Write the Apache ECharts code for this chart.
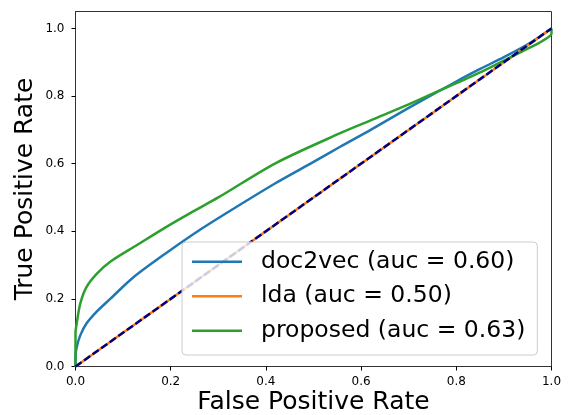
<!DOCTYPE html>
<html>
<head>
<meta charset="utf-8">
<title>ROC</title>
<script src="https://cdn.jsdelivr.net/npm/echarts@6.0.0/dist/echarts.min.js"></script>
<style>
    html, body { margin: 0; padding: 0; background: #fff; }
    #roc { width: 570px; height: 415px; }
</style>
</head>
<body>
<div id="roc"></div>
<script>
var seriesNames = ['doc2vec (auc = 0.60)', 'lda (auc = 0.50)', 'proposed (auc = 0.63)'];
var tickValues = [0, 0.2, 0.4, 0.6, 0.8, 1.0];

// doc2vec 曲线
var doc2vecFpr = [0, 0, 0.0025, 0.01, 0.023, 0.045, 0.073, 0.12, 0.19, 0.26, 0.33, 0.42, 0.5, 0.556, 0.62, 0.7, 0.76, 0.8, 0.85, 0.9, 0.95, 1.0];
var doc2vecTpr = [0, 0.03, 0.057, 0.092, 0.127, 0.163, 0.2, 0.262, 0.335, 0.403, 0.465, 0.542, 0.605, 0.65, 0.70, 0.765, 0.812, 0.843, 0.88, 0.915, 0.953, 1.0];

// lda 曲线
var ldaFpr = [0, 1];
var ldaTpr = [0, 1];

// proposed 曲线
var proposedFpr = [0, 0, 0.0025, 0.01, 0.023, 0.045, 0.073, 0.13, 0.185, 0.24, 0.3, 0.42, 0.556, 0.62, 0.7, 0.76, 0.8, 0.85, 0.9, 0.95, 0.98, 1.0, 1.0];
var proposedTpr = [0, 0.1, 0.127, 0.186, 0.235, 0.275, 0.31, 0.36, 0.408, 0.453, 0.5, 0.601, 0.69, 0.728, 0.775, 0.813, 0.838, 0.87, 0.905, 0.94, 0.962, 0.985, 1.0];

// 对角参考线
var chanceFpr = [0, 1];
var chanceTpr = [0, 1];

function pairs(xs, ys) {
    var out = [];
    for (var i = 0; i < xs.length; i++) {
        out.push([xs[i], ys[i]]);
    }
    return out;
}

var font = 'DejaVu Sans';
var rocChart = echarts.init(document.getElementById('roc'));

var option = {
    animation: false,
    textStyle: { fontFamily: font },
    grid: {
        left: 75.5,
        right: 18.5,
        top: 11.5,
        bottom: 48.5,
        outerBoundsMode: 'none',
        containLabel: false,
        show: true,
        borderColor: '#333',
        borderWidth: 1
    },
    legend: {
        data: seriesNames,
        orient: 'vertical',
        left: 182,
        top: 242,
        z: 10,
        icon: 'rect',
        itemWidth: 50,
        itemHeight: 2.5,
        itemGap: 10,
        padding: [7.5, 12, 12, 10],
        backgroundColor: 'rgba(255,255,255,0.8)',
        borderColor: '#cccccc',
        borderWidth: 1,
        borderRadius: 4,
        textStyle: {
            fontFamily: font,
            fontSize: 23.5,
            lineHeight: 24.5,
            color: '#000',
            padding: [0, 0, 0, 14]
        }
    },
    xAxis: {
        type: 'value',
        min: 0,
        max: 1,
        interval: 0.2,
        name: 'False Positive Rate',
        nameLocation: 'middle',
        nameGap: 23,
        nameMoveOverlap: false,
        nameTextStyle: { fontFamily: font, fontSize: 25, color: '#000' },
        axisLine: { show: true, lineStyle: { color: '#333', width: 1 } },
        axisTick: { show: true, inside: false, length: 4, lineStyle: { color: '#000' } },
        axisLabel: {
            margin: 9,
            fontFamily: font,
            fontSize: 12,
            color: '#000',
            formatter: function (v) { return v.toFixed(1); }
        },
        splitLine: { show: false }
    },
    yAxis: {
        type: 'value',
        min: 0,
        max: 1.05,
        name: 'True Positive Rate',
        nameLocation: 'middle',
        nameGap: 38,
        nameMoveOverlap: false,
        nameTextStyle: { fontFamily: font, fontSize: 25, color: '#000' },
        axisLine: { show: true, lineStyle: { color: '#333', width: 1 } },
        axisTick: { show: true, inside: false, length: 4, customValues: tickValues, lineStyle: { color: '#000' } },
        axisLabel: {
            margin: 11,
            fontFamily: font,
            fontSize: 12,
            color: '#000',
            customValues: tickValues,
            formatter: function (v) { return v.toFixed(1); }
        },
        splitLine: { show: false }
    },
    series: [
        {
            name: seriesNames[0],
            type: 'line',
            color: '#1f77b4',
            showSymbol: false,
            symbol: 'none',
            smooth: 0.3,
            lineStyle: { width: 2.5 },
            data: pairs(doc2vecFpr, doc2vecTpr)
        },
        {
            name: seriesNames[1],
            type: 'line',
            color: '#ff7f0e',
            showSymbol: false,
            symbol: 'none',
            lineStyle: { width: 2.5 },
            data: pairs(ldaFpr, ldaTpr)
        },
        {
            name: seriesNames[2],
            type: 'line',
            color: '#2ca02c',
            showSymbol: false,
            symbol: 'none',
            smooth: 0.3,
            lineStyle: { width: 2.5 },
            data: pairs(proposedFpr, proposedTpr)
        },
        {
            name: 'chance',
            type: 'line',
            color: '#000080',
            showSymbol: false,
            symbol: 'none',
            lineStyle: { width: 2.5, type: [7.5, 3] },
            data: pairs(chanceFpr, chanceTpr)
        }
    ]
};
rocChart.setOption(option);
</script>
</body>
</html>
